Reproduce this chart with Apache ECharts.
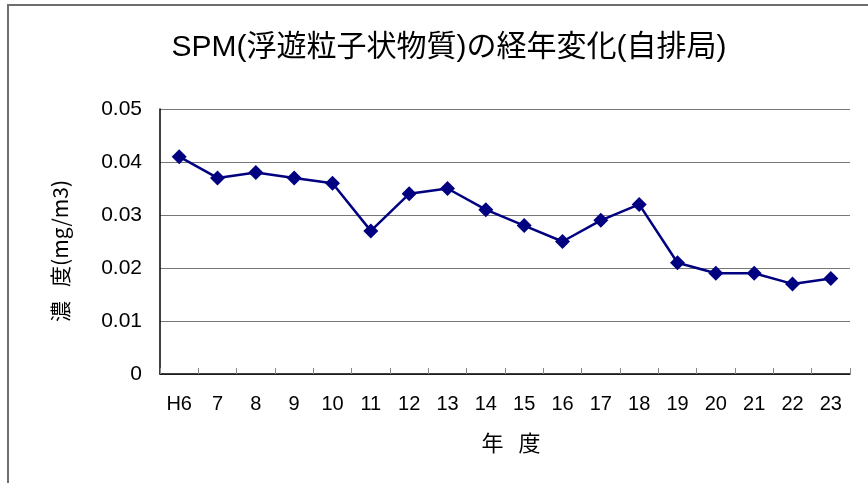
<!DOCTYPE html>
<html>
<head>
<meta charset="utf-8">
<script src="https://cdn.jsdelivr.net/npm/echarts@6/dist/echarts.min.js"></script>
<style>
  html, body { margin: 0; padding: 0; background: #fff; }
  #chart { width: 868px; height: 483px; }
</style>
</head>
<body>
<div id="chart"></div>
<script>
// 年度 (平成) categories
const years = ['H6', '7', '8', '9', '10', '11', '12', '13', '14', '15', '16', '17', '18', '19', '20', '21', '22', '23'];
// SPM annual mean concentration at roadside stations (mg/m3)
const spm = [0.041, 0.037, 0.038, 0.037, 0.036, 0.027, 0.034, 0.035, 0.031, 0.028, 0.025, 0.029, 0.032, 0.021, 0.019, 0.019, 0.017, 0.018];
// value axis range
const yMin = 0, yMax = 0.05, yStep = 0.01;

const FONT = '"Liberation Sans", "Noto Sans CJK JP", sans-serif';

const chart = echarts.init(document.getElementById('chart'), null, { renderer: 'canvas' });
chart.setOption({
  animation: false,
  backgroundColor: '#ffffff',
  title: {
    text: 'SPM(浮遊粒子状物質)の経年変化(自排局)',
    left: 444, top: 28, textAlign: 'center',
    textStyle: { fontFamily: FONT, fontSize: 30, fontWeight: 'normal', color: '#000' }
  },
  graphic: [
    { type: 'rect', shape: { x: 8, y: 5, width: 900, height: 520 },
      style: { fill: 'none', stroke: '#6e6e6e', lineWidth: 2 }, silent: true },
    { type: 'text', x: 511, y: 443,
      style: { text: '年   度', font: '22px "Noto Sans CJK JP", sans-serif', fill: '#000',
               align: 'center', verticalAlign: 'middle' } },
    { type: 'text', x: 60, y: 251, rotation: Math.PI / 2,
      style: { text: '濃   度(mg/m3)', font: '21px "Noto Sans CJK JP", sans-serif', fill: '#000',
               align: 'center', verticalAlign: 'middle' } }
  ],
  grid: { left: 160, right: 18, top: 109, bottom: 109, containLabel: false },
  xAxis: {
    type: 'category',
    data: years,
    boundaryGap: true,
    axisLine: { lineStyle: { color: '#000', width: 1.5 } },
    axisTick: { show: true, inside: true, length: 6, alignWithLabel: false, lineStyle: { color: '#888' } },
    axisLabel: { interval: 0, margin: 20, fontFamily: FONT, fontSize: 20, color: '#000' },
    splitLine: { show: false }
  },
  yAxis: {
    type: 'value',
    min: yMin, max: yMax, interval: yStep,
    axisLine: { show: true, lineStyle: { color: '#000', width: 1.5 } },
    axisTick: { show: false },
    axisLabel: {
      margin: 18, fontFamily: FONT, fontSize: 21, color: '#000',
      formatter: v => (v === 0 ? '0' : v.toFixed(2))
    },
    splitLine: { show: true, lineStyle: { color: '#777', width: 1 } }
  },
  series: [{
    type: 'line',
    data: spm,
    symbol: 'diamond',
    symbolSize: 15,
    lineStyle: { color: '#000080', width: 2.5 },
    itemStyle: { color: '#000080' }
  }]
});
</script>
</body>
</html>
